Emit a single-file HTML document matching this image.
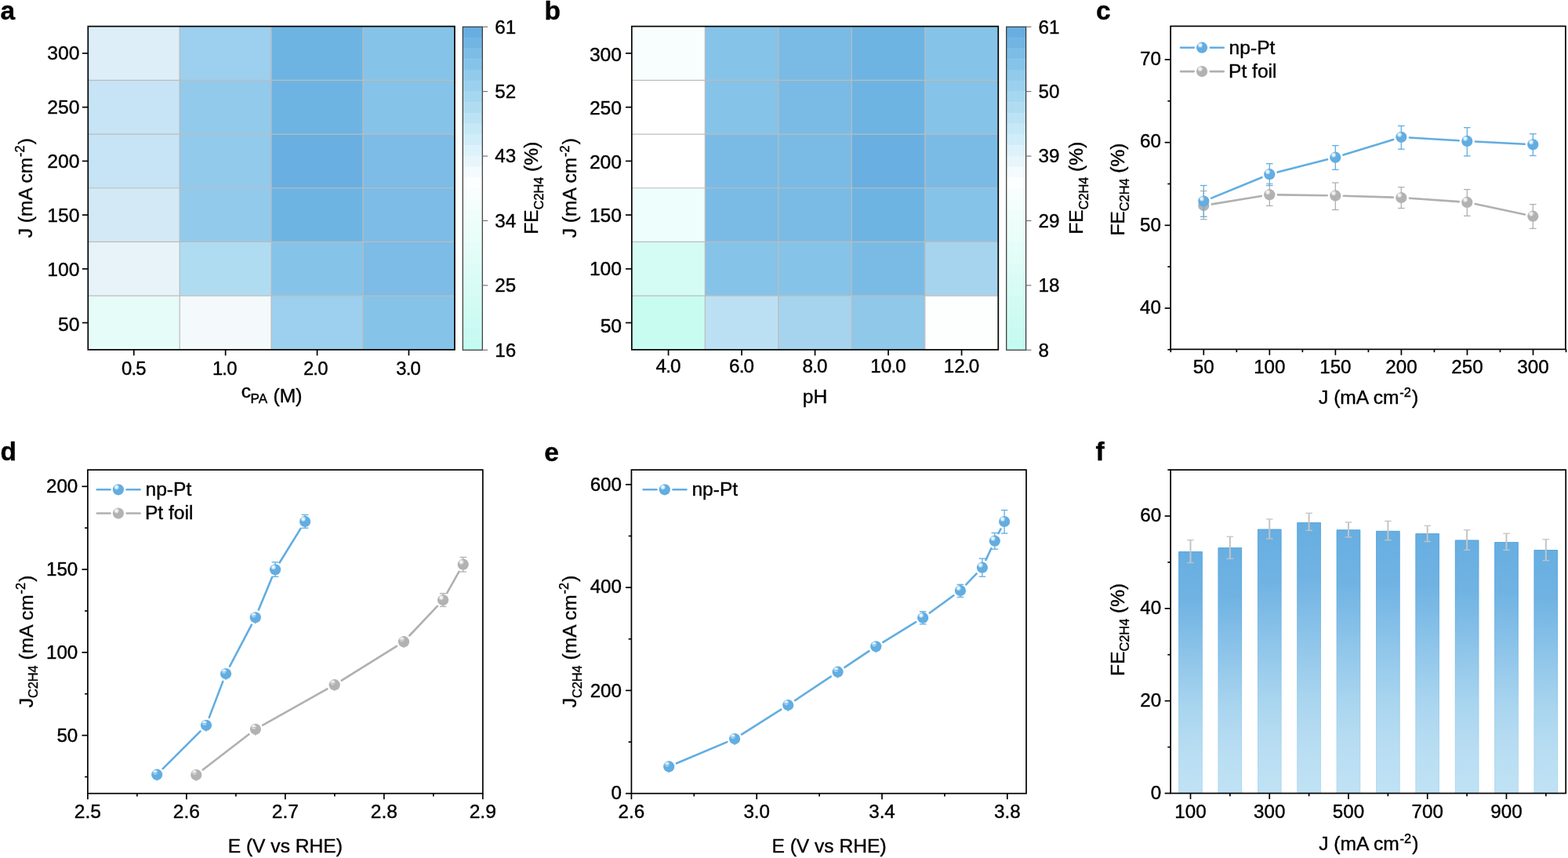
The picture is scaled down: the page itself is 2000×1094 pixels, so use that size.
<!DOCTYPE html>
<html lang="en"><head><meta charset="utf-8"><title>Figure</title>
<style>html,body{margin:0;padding:0;background:#fff}body{width:2000px;height:1094px;overflow:hidden}svg{display:block}text{font-family:"Liberation Sans",sans-serif;fill:#000;stroke:#000;stroke-width:0.4px;stroke-linejoin:round}</style></head><body>
<svg width="2000" height="1094" viewBox="0 0 2000 1094">
<defs>
<radialGradient id="sb" cx="0.36" cy="0.30" r="0.62" fx="0.33" fy="0.27"><stop offset="0" stop-color="#eaf5fc"/><stop offset="0.16" stop-color="#eaf5fc" stop-opacity="0.9"/><stop offset="0.42" stop-color="#62ade1"/><stop offset="1" stop-color="#62ade1"/></radialGradient>
<radialGradient id="sg" cx="0.36" cy="0.30" r="0.62" fx="0.33" fy="0.27"><stop offset="0" stop-color="#f2f2f2"/><stop offset="0.16" stop-color="#f2f2f2" stop-opacity="0.9"/><stop offset="0.42" stop-color="#b2b2b2"/><stop offset="1" stop-color="#b2b2b2"/></radialGradient>
<linearGradient id="bar" x1="0" y1="0" x2="0" y2="1"><stop offset="0" stop-color="#67aee1"/><stop offset="0.2" stop-color="#70b3e3"/><stop offset="0.45" stop-color="#90c6ea"/><stop offset="0.65" stop-color="#a9d5ef"/><stop offset="0.82" stop-color="#b8ddf2"/><stop offset="1" stop-color="#c0e2f4"/></linearGradient>
<linearGradient id="bare" x1="0" y1="0" x2="0" y2="1"><stop offset="0" stop-color="#5ba7de"/><stop offset="0.2" stop-color="#64ace0"/><stop offset="0.45" stop-color="#84bfe7"/><stop offset="0.65" stop-color="#9dceec"/><stop offset="0.82" stop-color="#acd6ef"/><stop offset="1" stop-color="#b4dbf1"/></linearGradient>
</defs>
<rect x="0" y="0" width="2000" height="1094" fill="#fff"/>
<text x="0.6" y="25" text-anchor="start" font-size="33.5" font-weight="bold" stroke="none">a</text>
<text x="694.6" y="25" text-anchor="start" font-size="33.5" font-weight="bold" stroke="none">b</text>
<text x="1398" y="25" text-anchor="start" font-size="33.5" font-weight="bold" stroke="none">c</text>
<text x="0.6" y="587" text-anchor="start" font-size="33.5" font-weight="bold" stroke="none">d</text>
<text x="694.3" y="587.7" text-anchor="start" font-size="33.5" font-weight="bold" stroke="none">e</text>
<text x="1397.6" y="587" text-anchor="start" font-size="33.5" font-weight="bold" stroke="none">f</text>
<rect x="112" y="33.3" width="117.5" height="69.32" fill="#ddeef8"/>
<rect x="228.9" y="33.3" width="117.5" height="69.32" fill="#9dcfee"/>
<rect x="345.8" y="33.3" width="117.5" height="69.32" fill="#6eb4e3"/>
<rect x="462.7" y="33.3" width="117.5" height="69.32" fill="#86c3e8"/>
<rect x="112" y="102.02" width="117.5" height="69.32" fill="#c6e4f5"/>
<rect x="228.9" y="102.02" width="117.5" height="69.32" fill="#92caec"/>
<rect x="345.8" y="102.02" width="117.5" height="69.32" fill="#6eb4e3"/>
<rect x="462.7" y="102.02" width="117.5" height="69.32" fill="#86c3e8"/>
<rect x="112" y="170.73" width="117.5" height="69.32" fill="#c6e4f5"/>
<rect x="228.9" y="170.73" width="117.5" height="69.32" fill="#92caec"/>
<rect x="345.8" y="170.73" width="117.5" height="69.32" fill="#6aafe1"/>
<rect x="462.7" y="170.73" width="117.5" height="69.32" fill="#7cbce6"/>
<rect x="112" y="239.45" width="117.5" height="69.32" fill="#d3eaf6"/>
<rect x="228.9" y="239.45" width="117.5" height="69.32" fill="#92caec"/>
<rect x="345.8" y="239.45" width="117.5" height="69.32" fill="#6eb4e3"/>
<rect x="462.7" y="239.45" width="117.5" height="69.32" fill="#7cbce6"/>
<rect x="112" y="308.17" width="117.5" height="69.32" fill="#e7f3f9"/>
<rect x="228.9" y="308.17" width="117.5" height="69.32" fill="#b0dcf2"/>
<rect x="345.8" y="308.17" width="117.5" height="69.32" fill="#86c3e8"/>
<rect x="462.7" y="308.17" width="117.5" height="69.32" fill="#7cbce6"/>
<rect x="112" y="376.88" width="117.5" height="69.32" fill="#e6fcf9"/>
<rect x="228.9" y="376.88" width="117.5" height="69.32" fill="#f4f9fc"/>
<rect x="345.8" y="376.88" width="117.5" height="69.32" fill="#9dcfee"/>
<rect x="462.7" y="376.88" width="117.5" height="69.32" fill="#86c3e8"/>
<line x1="229.2" y1="33.6" x2="229.2" y2="445.9" stroke="#bcbcbc" stroke-width="1.2" stroke-linecap="butt"/>
<line x1="346.1" y1="33.6" x2="346.1" y2="445.9" stroke="#bcbcbc" stroke-width="1.2" stroke-linecap="butt"/>
<line x1="463" y1="33.6" x2="463" y2="445.9" stroke="#bcbcbc" stroke-width="1.2" stroke-linecap="butt"/>
<line x1="112.3" y1="102.32" x2="579.9" y2="102.32" stroke="#bcbcbc" stroke-width="1.2" stroke-linecap="butt"/>
<line x1="112.3" y1="171.03" x2="579.9" y2="171.03" stroke="#bcbcbc" stroke-width="1.2" stroke-linecap="butt"/>
<line x1="112.3" y1="239.75" x2="579.9" y2="239.75" stroke="#bcbcbc" stroke-width="1.2" stroke-linecap="butt"/>
<line x1="112.3" y1="308.47" x2="579.9" y2="308.47" stroke="#bcbcbc" stroke-width="1.2" stroke-linecap="butt"/>
<line x1="112.3" y1="377.18" x2="579.9" y2="377.18" stroke="#bcbcbc" stroke-width="1.2" stroke-linecap="butt"/>
<rect x="112.3" y="33.6" width="467.6" height="412.3" fill="none" stroke="#000" stroke-width="1.7"/>
<line x1="104.85" y1="67.96" x2="112.3" y2="67.96" stroke="#000" stroke-width="1.7" stroke-linecap="butt"/>
<text x="101.5" y="76.16" text-anchor="end" font-size="24.7">300</text>
<line x1="104.85" y1="136.67" x2="112.3" y2="136.67" stroke="#000" stroke-width="1.7" stroke-linecap="butt"/>
<text x="101.5" y="145.17" text-anchor="end" font-size="24.7">250</text>
<line x1="104.85" y1="205.39" x2="112.3" y2="205.39" stroke="#000" stroke-width="1.7" stroke-linecap="butt"/>
<text x="101.5" y="213.89" text-anchor="end" font-size="24.7">200</text>
<line x1="104.85" y1="274.11" x2="112.3" y2="274.11" stroke="#000" stroke-width="1.7" stroke-linecap="butt"/>
<text x="101.5" y="282.71" text-anchor="end" font-size="24.7">150</text>
<line x1="104.85" y1="342.82" x2="112.3" y2="342.82" stroke="#000" stroke-width="1.7" stroke-linecap="butt"/>
<text x="101.5" y="351.62" text-anchor="end" font-size="24.7">100</text>
<line x1="104.85" y1="411.54" x2="112.3" y2="411.54" stroke="#000" stroke-width="1.7" stroke-linecap="butt"/>
<text x="101.5" y="422.24" text-anchor="end" font-size="24.7">50</text>
<line x1="170.75" y1="445.9" x2="170.75" y2="453.35" stroke="#000" stroke-width="1.7" stroke-linecap="butt"/>
<text x="170.75" y="478.2" text-anchor="middle" font-size="23.8">0<tspan dx="-0.80">.</tspan><tspan dx="-0.80">5</tspan></text>
<line x1="287.65" y1="445.9" x2="287.65" y2="453.35" stroke="#000" stroke-width="1.7" stroke-linecap="butt"/>
<text x="286.65" y="478.2" text-anchor="middle" font-size="23.8">1<tspan dx="-0.80">.</tspan><tspan dx="-0.80">0</tspan></text>
<line x1="404.55" y1="445.9" x2="404.55" y2="453.35" stroke="#000" stroke-width="1.7" stroke-linecap="butt"/>
<text x="402.65" y="478.2" text-anchor="middle" font-size="23.8">2<tspan dx="-0.80">.</tspan><tspan dx="-0.80">0</tspan></text>
<line x1="521.45" y1="445.9" x2="521.45" y2="453.35" stroke="#000" stroke-width="1.7" stroke-linecap="butt"/>
<text x="520.95" y="478.2" text-anchor="middle" font-size="23.8">3<tspan dx="-0.80">.</tspan><tspan dx="-0.80">0</tspan></text>
<text transform="translate(41,239.7) rotate(-90)" text-anchor="middle" font-size="24.6">J (mA cm<tspan font-size="16.3" dy="-9.6" dx="0.8">-2</tspan><tspan dy="9.6" dx="1.2">)</tspan></text>
<text x="307.7" y="507.2" text-anchor="start" font-size="24.6">c</text>
<text x="319.6" y="514" text-anchor="start" font-size="17.1">PA</text>
<text x="348.6" y="512.9" text-anchor="start" font-size="24.6">(M)</text>
<rect x="590.3" y="34" width="25" height="14.14" fill="#68aee0"/>
<rect x="590.3" y="47.74" width="25" height="14.14" fill="#72b5e3"/>
<rect x="590.3" y="61.47" width="25" height="14.14" fill="#7cbde6"/>
<rect x="590.3" y="75.21" width="25" height="14.14" fill="#86c3e9"/>
<rect x="590.3" y="88.95" width="25" height="14.14" fill="#91caeb"/>
<rect x="590.3" y="102.68" width="25" height="14.14" fill="#9bd0ee"/>
<rect x="590.3" y="116.42" width="25" height="14.14" fill="#a6d7f0"/>
<rect x="590.3" y="130.16" width="25" height="14.14" fill="#b0dcf2"/>
<rect x="590.3" y="143.89" width="25" height="14.14" fill="#bbe2f5"/>
<rect x="590.3" y="157.63" width="25" height="14.14" fill="#c6e8f7"/>
<rect x="590.3" y="171.37" width="25" height="14.14" fill="#d1edf9"/>
<rect x="590.3" y="185.1" width="25" height="14.14" fill="#ddf2fa"/>
<rect x="590.3" y="198.84" width="25" height="14.14" fill="#e8f6fc"/>
<rect x="590.3" y="212.58" width="25" height="14.14" fill="#f3fbfe"/>
<rect x="590.3" y="226.31" width="25" height="14.14" fill="#fbfffe"/>
<rect x="590.3" y="240.05" width="25" height="14.14" fill="#f8fefd"/>
<rect x="590.3" y="253.79" width="25" height="14.14" fill="#f4fefc"/>
<rect x="590.3" y="267.52" width="25" height="14.14" fill="#f0fefb"/>
<rect x="590.3" y="281.26" width="25" height="14.14" fill="#edfdfa"/>
<rect x="590.3" y="295" width="25" height="14.14" fill="#e9fdf9"/>
<rect x="590.3" y="308.73" width="25" height="14.14" fill="#e5fdf8"/>
<rect x="590.3" y="322.47" width="25" height="14.14" fill="#e2fcf8"/>
<rect x="590.3" y="336.21" width="25" height="14.14" fill="#defcf7"/>
<rect x="590.3" y="349.94" width="25" height="14.14" fill="#dafcf6"/>
<rect x="590.3" y="363.68" width="25" height="14.14" fill="#d6fcf5"/>
<rect x="590.3" y="377.42" width="25" height="14.14" fill="#d3fbf4"/>
<rect x="590.3" y="391.15" width="25" height="14.14" fill="#cffbf3"/>
<rect x="590.3" y="404.89" width="25" height="14.14" fill="#cbfbf2"/>
<rect x="590.3" y="418.63" width="25" height="14.14" fill="#c8faf1"/>
<rect x="590.3" y="432.36" width="25" height="14.14" fill="#c4faf0"/>
<rect x="590.3" y="34.2" width="25" height="412.1" fill="none" stroke="#333" stroke-width="1.2"/>
<line x1="615.3" y1="34.2" x2="622.1" y2="34.2" stroke="#6a6a6a" stroke-width="1.1" stroke-linecap="butt"/>
<text x="631.3" y="42.6" text-anchor="start" font-size="24.2">61</text>
<line x1="615.3" y1="116.62" x2="622.1" y2="116.62" stroke="#6a6a6a" stroke-width="1.1" stroke-linecap="butt"/>
<text x="631.3" y="125.02" text-anchor="start" font-size="24.2">52</text>
<line x1="615.3" y1="199.04" x2="622.1" y2="199.04" stroke="#6a6a6a" stroke-width="1.1" stroke-linecap="butt"/>
<text x="631.3" y="207.44" text-anchor="start" font-size="24.2">43</text>
<line x1="615.3" y1="281.46" x2="622.1" y2="281.46" stroke="#6a6a6a" stroke-width="1.1" stroke-linecap="butt"/>
<text x="631.3" y="289.86" text-anchor="start" font-size="24.2">34</text>
<line x1="615.3" y1="363.88" x2="622.1" y2="363.88" stroke="#6a6a6a" stroke-width="1.1" stroke-linecap="butt"/>
<text x="631.3" y="372.28" text-anchor="start" font-size="24.2">25</text>
<line x1="615.3" y1="446.3" x2="622.1" y2="446.3" stroke="#6a6a6a" stroke-width="1.1" stroke-linecap="butt"/>
<text x="631.3" y="454.7" text-anchor="start" font-size="24.2">16</text>
<text transform="translate(686.4,239.7) rotate(-90)" text-anchor="middle" font-size="24.6">FE<tspan font-size="16.3" dy="6.2">C2H4</tspan><tspan dy="-6.2"> (%)</tspan></text>
<rect x="805.5" y="33.3" width="94.1" height="69.32" fill="#f8fefd"/>
<rect x="899" y="33.3" width="94.1" height="69.32" fill="#86c3e8"/>
<rect x="992.5" y="33.3" width="94.1" height="69.32" fill="#7abbe5"/>
<rect x="1086" y="33.3" width="94.1" height="69.32" fill="#6eb4e3"/>
<rect x="1179.5" y="33.3" width="94.1" height="69.32" fill="#86c3e8"/>
<rect x="805.5" y="102.02" width="94.1" height="69.32" fill="#ffffff"/>
<rect x="899" y="102.02" width="94.1" height="69.32" fill="#86c3e8"/>
<rect x="992.5" y="102.02" width="94.1" height="69.32" fill="#7abbe5"/>
<rect x="1086" y="102.02" width="94.1" height="69.32" fill="#6eb4e3"/>
<rect x="1179.5" y="102.02" width="94.1" height="69.32" fill="#86c3e8"/>
<rect x="805.5" y="170.73" width="94.1" height="69.32" fill="#ffffff"/>
<rect x="899" y="170.73" width="94.1" height="69.32" fill="#7abbe5"/>
<rect x="992.5" y="170.73" width="94.1" height="69.32" fill="#7abbe5"/>
<rect x="1086" y="170.73" width="94.1" height="69.32" fill="#6aafe1"/>
<rect x="1179.5" y="170.73" width="94.1" height="69.32" fill="#7abbe5"/>
<rect x="805.5" y="239.45" width="94.1" height="69.32" fill="#edfefc"/>
<rect x="899" y="239.45" width="94.1" height="69.32" fill="#7abbe5"/>
<rect x="992.5" y="239.45" width="94.1" height="69.32" fill="#7abbe5"/>
<rect x="1086" y="239.45" width="94.1" height="69.32" fill="#6eb4e3"/>
<rect x="1179.5" y="239.45" width="94.1" height="69.32" fill="#86c3e8"/>
<rect x="805.5" y="308.17" width="94.1" height="69.32" fill="#d4fcf4"/>
<rect x="899" y="308.17" width="94.1" height="69.32" fill="#86c3e8"/>
<rect x="992.5" y="308.17" width="94.1" height="69.32" fill="#86c3e8"/>
<rect x="1086" y="308.17" width="94.1" height="69.32" fill="#7abbe5"/>
<rect x="1179.5" y="308.17" width="94.1" height="69.32" fill="#a6d4ee"/>
<rect x="805.5" y="376.88" width="94.1" height="69.32" fill="#c9fcf1"/>
<rect x="899" y="376.88" width="94.1" height="69.32" fill="#bce0f3"/>
<rect x="992.5" y="376.88" width="94.1" height="69.32" fill="#a6d4ee"/>
<rect x="1086" y="376.88" width="94.1" height="69.32" fill="#90c8ea"/>
<rect x="1179.5" y="376.88" width="94.1" height="69.32" fill="#fdfefe"/>
<line x1="899.3" y1="33.6" x2="899.3" y2="445.9" stroke="#bcbcbc" stroke-width="1.2" stroke-linecap="butt"/>
<line x1="992.8" y1="33.6" x2="992.8" y2="445.9" stroke="#bcbcbc" stroke-width="1.2" stroke-linecap="butt"/>
<line x1="1086.3" y1="33.6" x2="1086.3" y2="445.9" stroke="#bcbcbc" stroke-width="1.2" stroke-linecap="butt"/>
<line x1="1179.8" y1="33.6" x2="1179.8" y2="445.9" stroke="#bcbcbc" stroke-width="1.2" stroke-linecap="butt"/>
<line x1="805.8" y1="102.32" x2="1273.3" y2="102.32" stroke="#bcbcbc" stroke-width="1.2" stroke-linecap="butt"/>
<line x1="805.8" y1="171.03" x2="1273.3" y2="171.03" stroke="#bcbcbc" stroke-width="1.2" stroke-linecap="butt"/>
<line x1="805.8" y1="239.75" x2="1273.3" y2="239.75" stroke="#bcbcbc" stroke-width="1.2" stroke-linecap="butt"/>
<line x1="805.8" y1="308.47" x2="1273.3" y2="308.47" stroke="#bcbcbc" stroke-width="1.2" stroke-linecap="butt"/>
<line x1="805.8" y1="377.18" x2="1273.3" y2="377.18" stroke="#bcbcbc" stroke-width="1.2" stroke-linecap="butt"/>
<rect x="805.8" y="33.6" width="467.5" height="412.3" fill="none" stroke="#000" stroke-width="1.7"/>
<line x1="797.95" y1="67.96" x2="805.8" y2="67.96" stroke="#000" stroke-width="1.7" stroke-linecap="butt"/>
<text x="793.1" y="77.56" text-anchor="end" font-size="24.7">300</text>
<line x1="797.95" y1="136.67" x2="805.8" y2="136.67" stroke="#000" stroke-width="1.7" stroke-linecap="butt"/>
<text x="793.1" y="145.77" text-anchor="end" font-size="24.7">250</text>
<line x1="797.95" y1="205.39" x2="805.8" y2="205.39" stroke="#000" stroke-width="1.7" stroke-linecap="butt"/>
<text x="793.1" y="215.29" text-anchor="end" font-size="24.7">200</text>
<line x1="797.95" y1="274.11" x2="805.8" y2="274.11" stroke="#000" stroke-width="1.7" stroke-linecap="butt"/>
<text x="793.1" y="283.21" text-anchor="end" font-size="24.7">150</text>
<line x1="797.95" y1="342.82" x2="805.8" y2="342.82" stroke="#000" stroke-width="1.7" stroke-linecap="butt"/>
<text x="793.1" y="350.93" text-anchor="end" font-size="24.7">100</text>
<line x1="797.95" y1="411.54" x2="805.8" y2="411.54" stroke="#000" stroke-width="1.7" stroke-linecap="butt"/>
<text x="793.1" y="424.04" text-anchor="end" font-size="24.7">50</text>
<line x1="852.55" y1="445.9" x2="852.55" y2="453.35" stroke="#000" stroke-width="1.7" stroke-linecap="butt"/>
<text x="852.55" y="475" text-anchor="middle" font-size="24.2">4<tspan dx="-0.80">.</tspan><tspan dx="-0.80">0</tspan></text>
<line x1="946.05" y1="445.9" x2="946.05" y2="453.35" stroke="#000" stroke-width="1.7" stroke-linecap="butt"/>
<text x="946.05" y="475" text-anchor="middle" font-size="24.2">6<tspan dx="-0.80">.</tspan><tspan dx="-0.80">0</tspan></text>
<line x1="1039.55" y1="445.9" x2="1039.55" y2="453.35" stroke="#000" stroke-width="1.7" stroke-linecap="butt"/>
<text x="1039.55" y="475" text-anchor="middle" font-size="24.2">8<tspan dx="-0.80">.</tspan><tspan dx="-0.80">0</tspan></text>
<line x1="1133.05" y1="445.9" x2="1133.05" y2="453.35" stroke="#000" stroke-width="1.7" stroke-linecap="butt"/>
<text x="1133.05" y="475" text-anchor="middle" font-size="24.2">10<tspan dx="-0.80">.</tspan><tspan dx="-0.80">0</tspan></text>
<line x1="1226.55" y1="445.9" x2="1226.55" y2="453.35" stroke="#000" stroke-width="1.7" stroke-linecap="butt"/>
<text x="1226.55" y="475" text-anchor="middle" font-size="24.2">12<tspan dx="-0.80">.</tspan><tspan dx="-0.80">0</tspan></text>
<text transform="translate(735.4,239.7) rotate(-90)" text-anchor="middle" font-size="24.6">J (mA cm<tspan font-size="16.3" dy="-9.6" dx="0.8">-2</tspan><tspan dy="9.6" dx="1.2">)</tspan></text>
<text x="1039.5" y="513.5" text-anchor="middle" font-size="24.6">pH</text>
<rect x="1283.7" y="34" width="24.9" height="14.14" fill="#68aee0"/>
<rect x="1283.7" y="47.74" width="24.9" height="14.14" fill="#72b5e3"/>
<rect x="1283.7" y="61.47" width="24.9" height="14.14" fill="#7cbde6"/>
<rect x="1283.7" y="75.21" width="24.9" height="14.14" fill="#86c3e9"/>
<rect x="1283.7" y="88.95" width="24.9" height="14.14" fill="#91caeb"/>
<rect x="1283.7" y="102.68" width="24.9" height="14.14" fill="#9bd0ee"/>
<rect x="1283.7" y="116.42" width="24.9" height="14.14" fill="#a6d7f0"/>
<rect x="1283.7" y="130.16" width="24.9" height="14.14" fill="#b0dcf2"/>
<rect x="1283.7" y="143.89" width="24.9" height="14.14" fill="#bbe2f5"/>
<rect x="1283.7" y="157.63" width="24.9" height="14.14" fill="#c6e8f7"/>
<rect x="1283.7" y="171.37" width="24.9" height="14.14" fill="#d1edf9"/>
<rect x="1283.7" y="185.1" width="24.9" height="14.14" fill="#ddf2fa"/>
<rect x="1283.7" y="198.84" width="24.9" height="14.14" fill="#e8f6fc"/>
<rect x="1283.7" y="212.58" width="24.9" height="14.14" fill="#f3fbfe"/>
<rect x="1283.7" y="226.31" width="24.9" height="14.14" fill="#fbfffe"/>
<rect x="1283.7" y="240.05" width="24.9" height="14.14" fill="#f8fefd"/>
<rect x="1283.7" y="253.79" width="24.9" height="14.14" fill="#f4fefc"/>
<rect x="1283.7" y="267.52" width="24.9" height="14.14" fill="#f0fefb"/>
<rect x="1283.7" y="281.26" width="24.9" height="14.14" fill="#edfdfa"/>
<rect x="1283.7" y="295" width="24.9" height="14.14" fill="#e9fdf9"/>
<rect x="1283.7" y="308.73" width="24.9" height="14.14" fill="#e5fdf8"/>
<rect x="1283.7" y="322.47" width="24.9" height="14.14" fill="#e2fcf8"/>
<rect x="1283.7" y="336.21" width="24.9" height="14.14" fill="#defcf7"/>
<rect x="1283.7" y="349.94" width="24.9" height="14.14" fill="#dafcf6"/>
<rect x="1283.7" y="363.68" width="24.9" height="14.14" fill="#d6fcf5"/>
<rect x="1283.7" y="377.42" width="24.9" height="14.14" fill="#d3fbf4"/>
<rect x="1283.7" y="391.15" width="24.9" height="14.14" fill="#cffbf3"/>
<rect x="1283.7" y="404.89" width="24.9" height="14.14" fill="#cbfbf2"/>
<rect x="1283.7" y="418.63" width="24.9" height="14.14" fill="#c8faf1"/>
<rect x="1283.7" y="432.36" width="24.9" height="14.14" fill="#c4faf0"/>
<rect x="1283.7" y="34.2" width="24.9" height="412.1" fill="none" stroke="#333" stroke-width="1.2"/>
<line x1="1308.6" y1="34.2" x2="1315.4" y2="34.2" stroke="#6a6a6a" stroke-width="1.1" stroke-linecap="butt"/>
<text x="1324.6" y="42.6" text-anchor="start" font-size="24.2">61</text>
<line x1="1308.6" y1="116.62" x2="1315.4" y2="116.62" stroke="#6a6a6a" stroke-width="1.1" stroke-linecap="butt"/>
<text x="1324.6" y="125.02" text-anchor="start" font-size="24.2">50</text>
<line x1="1308.6" y1="199.04" x2="1315.4" y2="199.04" stroke="#6a6a6a" stroke-width="1.1" stroke-linecap="butt"/>
<text x="1324.6" y="207.44" text-anchor="start" font-size="24.2">39</text>
<line x1="1308.6" y1="281.46" x2="1315.4" y2="281.46" stroke="#6a6a6a" stroke-width="1.1" stroke-linecap="butt"/>
<text x="1324.6" y="289.86" text-anchor="start" font-size="24.2">29</text>
<line x1="1308.6" y1="363.88" x2="1315.4" y2="363.88" stroke="#6a6a6a" stroke-width="1.1" stroke-linecap="butt"/>
<text x="1324.6" y="372.28" text-anchor="start" font-size="24.2">18</text>
<line x1="1308.6" y1="446.3" x2="1315.4" y2="446.3" stroke="#6a6a6a" stroke-width="1.1" stroke-linecap="butt"/>
<text x="1324.6" y="454.7" text-anchor="start" font-size="24.2">8</text>
<text transform="translate(1381.3,239.7) rotate(-90)" text-anchor="middle" font-size="24.6">FE<tspan font-size="16.3" dy="6.2">C2H4</tspan><tspan dy="-6.2"> (%)</tspan></text>
<rect x="1493.1" y="33.4" width="503.8" height="412" fill="none" stroke="#000" stroke-width="1.7"/>
<line x1="1485.65" y1="76" x2="1493.1" y2="76" stroke="#000" stroke-width="1.7" stroke-linecap="butt"/>
<text x="1480.9" y="83.1" text-anchor="end" font-size="24.2">70</text>
<line x1="1485.65" y1="181.65" x2="1493.1" y2="181.65" stroke="#000" stroke-width="1.7" stroke-linecap="butt"/>
<text x="1480.9" y="188.35" text-anchor="end" font-size="24.2">60</text>
<line x1="1485.65" y1="287.3" x2="1493.1" y2="287.3" stroke="#000" stroke-width="1.7" stroke-linecap="butt"/>
<text x="1480.9" y="295.2" text-anchor="end" font-size="24.2">50</text>
<line x1="1485.65" y1="392.95" x2="1493.1" y2="392.95" stroke="#000" stroke-width="1.7" stroke-linecap="butt"/>
<text x="1480.9" y="400.25" text-anchor="end" font-size="24.2">40</text>
<line x1="1489.35" y1="128.82" x2="1493.1" y2="128.82" stroke="#000" stroke-width="1.7" stroke-linecap="butt"/>
<line x1="1489.35" y1="234.47" x2="1493.1" y2="234.47" stroke="#000" stroke-width="1.7" stroke-linecap="butt"/>
<line x1="1489.35" y1="340.12" x2="1493.1" y2="340.12" stroke="#000" stroke-width="1.7" stroke-linecap="butt"/>
<line x1="1489.35" y1="445.77" x2="1493.1" y2="445.77" stroke="#000" stroke-width="1.7" stroke-linecap="butt"/>
<line x1="1535.3" y1="445.4" x2="1535.3" y2="452.85" stroke="#000" stroke-width="1.7" stroke-linecap="butt"/>
<text x="1535.3" y="476" text-anchor="middle" font-size="24.2">50</text>
<line x1="1619.34" y1="445.4" x2="1619.34" y2="452.85" stroke="#000" stroke-width="1.7" stroke-linecap="butt"/>
<text x="1619.34" y="476" text-anchor="middle" font-size="24.2">100</text>
<line x1="1703.38" y1="445.4" x2="1703.38" y2="452.85" stroke="#000" stroke-width="1.7" stroke-linecap="butt"/>
<text x="1703.38" y="476" text-anchor="middle" font-size="24.2">150</text>
<line x1="1787.42" y1="445.4" x2="1787.42" y2="452.85" stroke="#000" stroke-width="1.7" stroke-linecap="butt"/>
<text x="1787.42" y="476" text-anchor="middle" font-size="24.2">200</text>
<line x1="1871.46" y1="445.4" x2="1871.46" y2="452.85" stroke="#000" stroke-width="1.7" stroke-linecap="butt"/>
<text x="1871.46" y="476" text-anchor="middle" font-size="24.2">250</text>
<line x1="1955.5" y1="445.4" x2="1955.5" y2="452.85" stroke="#000" stroke-width="1.7" stroke-linecap="butt"/>
<text x="1955.5" y="476" text-anchor="middle" font-size="24.2">300</text>
<line x1="1493.28" y1="445.4" x2="1493.28" y2="449.15" stroke="#000" stroke-width="1.7" stroke-linecap="butt"/>
<line x1="1577.32" y1="445.4" x2="1577.32" y2="449.15" stroke="#000" stroke-width="1.7" stroke-linecap="butt"/>
<line x1="1661.36" y1="445.4" x2="1661.36" y2="449.15" stroke="#000" stroke-width="1.7" stroke-linecap="butt"/>
<line x1="1745.4" y1="445.4" x2="1745.4" y2="449.15" stroke="#000" stroke-width="1.7" stroke-linecap="butt"/>
<line x1="1829.44" y1="445.4" x2="1829.44" y2="449.15" stroke="#000" stroke-width="1.7" stroke-linecap="butt"/>
<line x1="1913.48" y1="445.4" x2="1913.48" y2="449.15" stroke="#000" stroke-width="1.7" stroke-linecap="butt"/>
<line x1="1997.52" y1="445.4" x2="1997.52" y2="449.15" stroke="#000" stroke-width="1.7" stroke-linecap="butt"/>
<text transform="translate(1434,241.5) rotate(-90)" text-anchor="middle" font-size="24.6">FE<tspan font-size="16.3" dy="6.2">C2H4</tspan><tspan dy="-6.2"> (%)</tspan></text>
<text x="1745.6" y="515.2" text-anchor="middle" font-size="24.6">J (mA cm<tspan font-size="16.3" dy="-9.6" dx="0.8">-2</tspan><tspan dy="9.6" dx="1.2">)</tspan></text>
<line x1="1545.76" y1="260.37" x2="1608.84" y2="249.93" stroke="#b0b0b0" stroke-width="2.6" stroke-linecap="round"/>
<line x1="1629.9" y1="248.35" x2="1692.7" y2="249.25" stroke="#b0b0b0" stroke-width="2.6" stroke-linecap="round"/>
<line x1="1713.89" y1="249.73" x2="1776.71" y2="251.67" stroke="#b0b0b0" stroke-width="2.6" stroke-linecap="round"/>
<line x1="1797.87" y1="252.74" x2="1860.73" y2="257.16" stroke="#b0b0b0" stroke-width="2.6" stroke-linecap="round"/>
<line x1="1881.67" y1="260.1" x2="1944.93" y2="273.5" stroke="#b0b0b0" stroke-width="2.6" stroke-linecap="round"/>
<line x1="1535.3" y1="243.5" x2="1535.3" y2="279.7" stroke="#b0b0b0" stroke-width="1.3" stroke-linecap="butt"/>
<line x1="1531" y1="243.5" x2="1539.6" y2="243.5" stroke="#b0b0b0" stroke-width="1.3" stroke-linecap="butt"/>
<line x1="1531" y1="279.7" x2="1539.6" y2="279.7" stroke="#b0b0b0" stroke-width="1.3" stroke-linecap="butt"/>
<line x1="1619.3" y1="234.3" x2="1619.3" y2="262.4" stroke="#b0b0b0" stroke-width="1.3" stroke-linecap="butt"/>
<line x1="1615" y1="234.3" x2="1623.6" y2="234.3" stroke="#b0b0b0" stroke-width="1.3" stroke-linecap="butt"/>
<line x1="1615" y1="262.4" x2="1623.6" y2="262.4" stroke="#b0b0b0" stroke-width="1.3" stroke-linecap="butt"/>
<line x1="1703.3" y1="233" x2="1703.3" y2="267.5" stroke="#b0b0b0" stroke-width="1.3" stroke-linecap="butt"/>
<line x1="1699" y1="233" x2="1707.6" y2="233" stroke="#b0b0b0" stroke-width="1.3" stroke-linecap="butt"/>
<line x1="1699" y1="267.5" x2="1707.6" y2="267.5" stroke="#b0b0b0" stroke-width="1.3" stroke-linecap="butt"/>
<line x1="1787.3" y1="238.7" x2="1787.3" y2="265.5" stroke="#b0b0b0" stroke-width="1.3" stroke-linecap="butt"/>
<line x1="1783" y1="238.7" x2="1791.6" y2="238.7" stroke="#b0b0b0" stroke-width="1.3" stroke-linecap="butt"/>
<line x1="1783" y1="265.5" x2="1791.6" y2="265.5" stroke="#b0b0b0" stroke-width="1.3" stroke-linecap="butt"/>
<line x1="1871.3" y1="241.6" x2="1871.3" y2="275.3" stroke="#b0b0b0" stroke-width="1.3" stroke-linecap="butt"/>
<line x1="1867" y1="241.6" x2="1875.6" y2="241.6" stroke="#b0b0b0" stroke-width="1.3" stroke-linecap="butt"/>
<line x1="1867" y1="275.3" x2="1875.6" y2="275.3" stroke="#b0b0b0" stroke-width="1.3" stroke-linecap="butt"/>
<line x1="1955.3" y1="260.6" x2="1955.3" y2="291.4" stroke="#b0b0b0" stroke-width="1.3" stroke-linecap="butt"/>
<line x1="1951" y1="260.6" x2="1959.6" y2="260.6" stroke="#b0b0b0" stroke-width="1.3" stroke-linecap="butt"/>
<line x1="1951" y1="291.4" x2="1959.6" y2="291.4" stroke="#b0b0b0" stroke-width="1.3" stroke-linecap="butt"/>
<circle cx="1535.3" cy="262.1" r="7.1" fill="url(#sg)"/>
<circle cx="1619.3" cy="248.2" r="7.1" fill="url(#sg)"/>
<circle cx="1703.3" cy="249.4" r="7.1" fill="url(#sg)"/>
<circle cx="1787.3" cy="252" r="7.1" fill="url(#sg)"/>
<circle cx="1871.3" cy="257.9" r="7.1" fill="url(#sg)"/>
<circle cx="1955.3" cy="275.7" r="7.1" fill="url(#sg)"/>
<line x1="1545.11" y1="252.58" x2="1609.49" y2="226.22" stroke="#62ade1" stroke-width="2.6" stroke-linecap="round"/>
<line x1="1629.57" y1="219.57" x2="1693.03" y2="203.33" stroke="#62ade1" stroke-width="2.6" stroke-linecap="round"/>
<line x1="1713.43" y1="197.58" x2="1777.17" y2="177.92" stroke="#62ade1" stroke-width="2.6" stroke-linecap="round"/>
<line x1="1797.88" y1="175.44" x2="1860.72" y2="179.26" stroke="#62ade1" stroke-width="2.6" stroke-linecap="round"/>
<line x1="1881.89" y1="180.45" x2="1944.71" y2="183.75" stroke="#62ade1" stroke-width="2.6" stroke-linecap="round"/>
<line x1="1535.3" y1="236.5" x2="1535.3" y2="276.3" stroke="#62ade1" stroke-width="1.3" stroke-linecap="butt"/>
<line x1="1531" y1="236.5" x2="1539.6" y2="236.5" stroke="#62ade1" stroke-width="1.3" stroke-linecap="butt"/>
<line x1="1531" y1="276.3" x2="1539.6" y2="276.3" stroke="#62ade1" stroke-width="1.3" stroke-linecap="butt"/>
<line x1="1619.3" y1="208.7" x2="1619.3" y2="236.5" stroke="#62ade1" stroke-width="1.3" stroke-linecap="butt"/>
<line x1="1615" y1="208.7" x2="1623.6" y2="208.7" stroke="#62ade1" stroke-width="1.3" stroke-linecap="butt"/>
<line x1="1615" y1="236.5" x2="1623.6" y2="236.5" stroke="#62ade1" stroke-width="1.3" stroke-linecap="butt"/>
<line x1="1703.3" y1="185.6" x2="1703.3" y2="216.3" stroke="#62ade1" stroke-width="1.3" stroke-linecap="butt"/>
<line x1="1699" y1="185.6" x2="1707.6" y2="185.6" stroke="#62ade1" stroke-width="1.3" stroke-linecap="butt"/>
<line x1="1699" y1="216.3" x2="1707.6" y2="216.3" stroke="#62ade1" stroke-width="1.3" stroke-linecap="butt"/>
<line x1="1787.3" y1="160.5" x2="1787.3" y2="190.2" stroke="#62ade1" stroke-width="1.3" stroke-linecap="butt"/>
<line x1="1783" y1="160.5" x2="1791.6" y2="160.5" stroke="#62ade1" stroke-width="1.3" stroke-linecap="butt"/>
<line x1="1783" y1="190.2" x2="1791.6" y2="190.2" stroke="#62ade1" stroke-width="1.3" stroke-linecap="butt"/>
<line x1="1871.3" y1="162.7" x2="1871.3" y2="198.9" stroke="#62ade1" stroke-width="1.3" stroke-linecap="butt"/>
<line x1="1867" y1="162.7" x2="1875.6" y2="162.7" stroke="#62ade1" stroke-width="1.3" stroke-linecap="butt"/>
<line x1="1867" y1="198.9" x2="1875.6" y2="198.9" stroke="#62ade1" stroke-width="1.3" stroke-linecap="butt"/>
<line x1="1955.3" y1="170.7" x2="1955.3" y2="198.5" stroke="#62ade1" stroke-width="1.3" stroke-linecap="butt"/>
<line x1="1951" y1="170.7" x2="1959.6" y2="170.7" stroke="#62ade1" stroke-width="1.3" stroke-linecap="butt"/>
<line x1="1951" y1="198.5" x2="1959.6" y2="198.5" stroke="#62ade1" stroke-width="1.3" stroke-linecap="butt"/>
<circle cx="1535.3" cy="256.6" r="7.1" fill="url(#sb)"/>
<circle cx="1619.3" cy="222.2" r="7.1" fill="url(#sb)"/>
<circle cx="1703.3" cy="200.7" r="7.1" fill="url(#sb)"/>
<circle cx="1787.3" cy="174.8" r="7.1" fill="url(#sb)"/>
<circle cx="1871.3" cy="179.9" r="7.1" fill="url(#sb)"/>
<circle cx="1955.3" cy="184.3" r="7.1" fill="url(#sb)"/>
<line x1="1535.3" y1="250.2" x2="1535.3" y2="254.8" stroke="#b4b4b4" stroke-width="1.2" stroke-linecap="butt"/>
<line x1="1506" y1="60.7" x2="1522.7" y2="60.7" stroke="#62ade1" stroke-width="2.6" stroke-linecap="round"/>
<line x1="1543.8" y1="60.7" x2="1560.7" y2="60.7" stroke="#62ade1" stroke-width="2.6" stroke-linecap="round"/>
<circle cx="1533.1" cy="60.7" r="7.1" fill="url(#sb)"/>
<text x="1567.6" y="68.6" text-anchor="start" font-size="24.6">np-Pt</text>
<line x1="1506" y1="91.1" x2="1522.7" y2="91.1" stroke="#b0b0b0" stroke-width="2.6" stroke-linecap="round"/>
<line x1="1543.8" y1="91.1" x2="1560.7" y2="91.1" stroke="#b0b0b0" stroke-width="2.6" stroke-linecap="round"/>
<circle cx="1533.1" cy="91.1" r="7.1" fill="url(#sg)"/>
<text x="1567" y="99" text-anchor="start" font-size="24.6">Pt foil</text>
<rect x="111.9" y="599.1" width="503.9" height="412.6" fill="none" stroke="#000" stroke-width="1.7"/>
<line x1="104.45" y1="620.26" x2="111.9" y2="620.26" stroke="#000" stroke-width="1.7" stroke-linecap="butt"/>
<text x="99.3" y="627.56" text-anchor="end" font-size="24.2">200</text>
<line x1="104.45" y1="726.05" x2="111.9" y2="726.05" stroke="#000" stroke-width="1.7" stroke-linecap="butt"/>
<text x="99.3" y="733.55" text-anchor="end" font-size="24.2">150</text>
<line x1="104.45" y1="831.85" x2="111.9" y2="831.85" stroke="#000" stroke-width="1.7" stroke-linecap="butt"/>
<text x="99.3" y="839.55" text-anchor="end" font-size="24.2">100</text>
<line x1="104.45" y1="937.64" x2="111.9" y2="937.64" stroke="#000" stroke-width="1.7" stroke-linecap="butt"/>
<text x="99.3" y="945.54" text-anchor="end" font-size="24.2">50</text>
<line x1="108.15" y1="673.16" x2="111.9" y2="673.16" stroke="#000" stroke-width="1.7" stroke-linecap="butt"/>
<line x1="108.15" y1="778.95" x2="111.9" y2="778.95" stroke="#000" stroke-width="1.7" stroke-linecap="butt"/>
<line x1="108.15" y1="884.75" x2="111.9" y2="884.75" stroke="#000" stroke-width="1.7" stroke-linecap="butt"/>
<line x1="108.15" y1="990.54" x2="111.9" y2="990.54" stroke="#000" stroke-width="1.7" stroke-linecap="butt"/>
<line x1="111.9" y1="1011.7" x2="111.9" y2="1019.15" stroke="#000" stroke-width="1.7" stroke-linecap="butt"/>
<text x="111.9" y="1043" text-anchor="middle" font-size="24.6">2.5</text>
<line x1="237.88" y1="1011.7" x2="237.88" y2="1019.15" stroke="#000" stroke-width="1.7" stroke-linecap="butt"/>
<text x="237.88" y="1043" text-anchor="middle" font-size="24.6">2.6</text>
<line x1="363.85" y1="1011.7" x2="363.85" y2="1019.15" stroke="#000" stroke-width="1.7" stroke-linecap="butt"/>
<text x="363.85" y="1043" text-anchor="middle" font-size="24.6">2.7</text>
<line x1="489.82" y1="1011.7" x2="489.82" y2="1019.15" stroke="#000" stroke-width="1.7" stroke-linecap="butt"/>
<text x="489.82" y="1043" text-anchor="middle" font-size="24.6">2.8</text>
<line x1="615.8" y1="1011.7" x2="615.8" y2="1019.15" stroke="#000" stroke-width="1.7" stroke-linecap="butt"/>
<text x="615.8" y="1043" text-anchor="middle" font-size="24.6">2.9</text>
<line x1="174.89" y1="1011.7" x2="174.89" y2="1015.45" stroke="#000" stroke-width="1.7" stroke-linecap="butt"/>
<line x1="300.86" y1="1011.7" x2="300.86" y2="1015.45" stroke="#000" stroke-width="1.7" stroke-linecap="butt"/>
<line x1="426.84" y1="1011.7" x2="426.84" y2="1015.45" stroke="#000" stroke-width="1.7" stroke-linecap="butt"/>
<line x1="552.81" y1="1011.7" x2="552.81" y2="1015.45" stroke="#000" stroke-width="1.7" stroke-linecap="butt"/>
<text transform="translate(41.6,817.9) rotate(-90)" text-anchor="middle" font-size="24.6">J<tspan font-size="16.3" dy="6.8">C2H4</tspan><tspan dy="-6.8"> (mA cm</tspan><tspan font-size="16.3" dy="-9.6" dx="0.8">-2</tspan><tspan dy="9.6" dx="1.2">)</tspan></text>
<text x="363.8" y="1087" text-anchor="middle" font-size="24.6">E (V vs RHE)</text>
<line x1="258.7" y1="981.53" x2="317.5" y2="936.27" stroke="#b0b0b0" stroke-width="2.6" stroke-linecap="round"/>
<line x1="335.14" y1="924.61" x2="417.46" y2="878.39" stroke="#b0b0b0" stroke-width="2.6" stroke-linecap="round"/>
<line x1="435.7" y1="867.6" x2="506" y2="823.8" stroke="#b0b0b0" stroke-width="2.6" stroke-linecap="round"/>
<line x1="522.27" y1="810.49" x2="557.83" y2="772.81" stroke="#b0b0b0" stroke-width="2.6" stroke-linecap="round"/>
<line x1="570.31" y1="755.87" x2="585.49" y2="728.93" stroke="#b0b0b0" stroke-width="2.6" stroke-linecap="round"/>
<line x1="565.1" y1="756.6" x2="565.1" y2="773.4" stroke="#b0b0b0" stroke-width="1.3" stroke-linecap="butt"/>
<line x1="560.8" y1="756.6" x2="569.4" y2="756.6" stroke="#b0b0b0" stroke-width="1.3" stroke-linecap="butt"/>
<line x1="560.8" y1="773.4" x2="569.4" y2="773.4" stroke="#b0b0b0" stroke-width="1.3" stroke-linecap="butt"/>
<line x1="590.7" y1="710.5" x2="590.7" y2="729" stroke="#b0b0b0" stroke-width="1.3" stroke-linecap="butt"/>
<line x1="586.4" y1="710.5" x2="595" y2="710.5" stroke="#b0b0b0" stroke-width="1.3" stroke-linecap="butt"/>
<line x1="586.4" y1="729" x2="595" y2="729" stroke="#b0b0b0" stroke-width="1.3" stroke-linecap="butt"/>
<line x1="250.3" y1="988" x2="250.3" y2="995.9" stroke="#b0b0b0" stroke-width="1.3" stroke-linecap="butt"/>
<circle cx="250.3" cy="988" r="7.1" fill="url(#sg)"/>
<line x1="246" y1="985.9" x2="250.9" y2="985.9" stroke="#b0b0b0" stroke-width="1" stroke-linecap="butt"/>
<line x1="325.9" y1="929.8" x2="325.9" y2="937.7" stroke="#b0b0b0" stroke-width="1.3" stroke-linecap="butt"/>
<circle cx="325.9" cy="929.8" r="7.1" fill="url(#sg)"/>
<line x1="321.6" y1="927.7" x2="326.5" y2="927.7" stroke="#b0b0b0" stroke-width="1" stroke-linecap="butt"/>
<line x1="426.7" y1="873.2" x2="426.7" y2="881.1" stroke="#b0b0b0" stroke-width="1.3" stroke-linecap="butt"/>
<circle cx="426.7" cy="873.2" r="7.1" fill="url(#sg)"/>
<line x1="422.4" y1="871.1" x2="427.3" y2="871.1" stroke="#b0b0b0" stroke-width="1" stroke-linecap="butt"/>
<line x1="515" y1="818.2" x2="515" y2="826.1" stroke="#b0b0b0" stroke-width="1.3" stroke-linecap="butt"/>
<circle cx="515" cy="818.2" r="7.1" fill="url(#sg)"/>
<line x1="510.7" y1="816.1" x2="515.6" y2="816.1" stroke="#b0b0b0" stroke-width="1" stroke-linecap="butt"/>
<circle cx="565.1" cy="765.1" r="7.1" fill="url(#sg)"/>
<circle cx="590.7" cy="719.7" r="7.1" fill="url(#sg)"/>
<line x1="207.69" y1="980.2" x2="255.51" y2="932.3" stroke="#62ade1" stroke-width="2.6" stroke-linecap="round"/>
<line x1="266.78" y1="914.9" x2="284.32" y2="868.9" stroke="#62ade1" stroke-width="2.6" stroke-linecap="round"/>
<line x1="293.03" y1="849.62" x2="320.87" y2="796.68" stroke="#62ade1" stroke-width="2.6" stroke-linecap="round"/>
<line x1="329.86" y1="777.51" x2="347.04" y2="736.09" stroke="#62ade1" stroke-width="2.6" stroke-linecap="round"/>
<line x1="356.68" y1="717.29" x2="383.52" y2="673.91" stroke="#62ade1" stroke-width="2.6" stroke-linecap="round"/>
<line x1="351.1" y1="716.8" x2="351.1" y2="735.3" stroke="#62ade1" stroke-width="1.3" stroke-linecap="butt"/>
<line x1="346.8" y1="716.8" x2="355.4" y2="716.8" stroke="#62ade1" stroke-width="1.3" stroke-linecap="butt"/>
<line x1="346.8" y1="735.3" x2="355.4" y2="735.3" stroke="#62ade1" stroke-width="1.3" stroke-linecap="butt"/>
<line x1="389.1" y1="656.4" x2="389.1" y2="673.3" stroke="#62ade1" stroke-width="1.3" stroke-linecap="butt"/>
<line x1="384.8" y1="656.4" x2="393.4" y2="656.4" stroke="#62ade1" stroke-width="1.3" stroke-linecap="butt"/>
<line x1="384.8" y1="673.3" x2="393.4" y2="673.3" stroke="#62ade1" stroke-width="1.3" stroke-linecap="butt"/>
<line x1="200.2" y1="987.7" x2="200.2" y2="995.6" stroke="#62ade1" stroke-width="1.3" stroke-linecap="butt"/>
<circle cx="200.2" cy="987.7" r="7.1" fill="url(#sb)"/>
<line x1="195.9" y1="985.6" x2="200.8" y2="985.6" stroke="#62ade1" stroke-width="1" stroke-linecap="butt"/>
<line x1="263" y1="924.8" x2="263" y2="932.7" stroke="#62ade1" stroke-width="1.3" stroke-linecap="butt"/>
<circle cx="263" cy="924.8" r="7.1" fill="url(#sb)"/>
<line x1="258.7" y1="922.7" x2="263.6" y2="922.7" stroke="#62ade1" stroke-width="1" stroke-linecap="butt"/>
<line x1="288.1" y1="859" x2="288.1" y2="866.9" stroke="#62ade1" stroke-width="1.3" stroke-linecap="butt"/>
<circle cx="288.1" cy="859" r="7.1" fill="url(#sb)"/>
<line x1="283.8" y1="856.9" x2="288.7" y2="856.9" stroke="#62ade1" stroke-width="1" stroke-linecap="butt"/>
<line x1="325.8" y1="787.3" x2="325.8" y2="795.2" stroke="#62ade1" stroke-width="1.3" stroke-linecap="butt"/>
<circle cx="325.8" cy="787.3" r="7.1" fill="url(#sb)"/>
<line x1="321.5" y1="785.2" x2="326.4" y2="785.2" stroke="#62ade1" stroke-width="1" stroke-linecap="butt"/>
<circle cx="351.1" cy="726.3" r="7.1" fill="url(#sb)"/>
<circle cx="389.1" cy="664.9" r="7.1" fill="url(#sb)"/>
<line x1="123.8" y1="624.3" x2="140.5" y2="624.3" stroke="#62ade1" stroke-width="2.6" stroke-linecap="round"/>
<line x1="161.6" y1="624.3" x2="178.5" y2="624.3" stroke="#62ade1" stroke-width="2.6" stroke-linecap="round"/>
<circle cx="150.9" cy="624.3" r="7.1" fill="url(#sb)"/>
<text x="185.5" y="632.2" text-anchor="start" font-size="24.6">np-Pt</text>
<line x1="123.8" y1="654.5" x2="140.5" y2="654.5" stroke="#b0b0b0" stroke-width="2.6" stroke-linecap="round"/>
<line x1="161.6" y1="654.5" x2="178.5" y2="654.5" stroke="#b0b0b0" stroke-width="2.6" stroke-linecap="round"/>
<circle cx="150.9" cy="654.5" r="7.1" fill="url(#sg)"/>
<text x="184.9" y="662.4" text-anchor="start" font-size="24.6">Pt foil</text>
<rect x="805.4" y="599.1" width="503.6" height="412.6" fill="none" stroke="#000" stroke-width="1.7"/>
<line x1="797.95" y1="617.8" x2="805.4" y2="617.8" stroke="#000" stroke-width="1.7" stroke-linecap="butt"/>
<text x="793" y="625.5" text-anchor="end" font-size="24.2">600</text>
<line x1="797.95" y1="749.1" x2="805.4" y2="749.1" stroke="#000" stroke-width="1.7" stroke-linecap="butt"/>
<text x="793" y="755.9" text-anchor="end" font-size="24.2">400</text>
<line x1="797.95" y1="880.4" x2="805.4" y2="880.4" stroke="#000" stroke-width="1.7" stroke-linecap="butt"/>
<text x="793" y="888.9" text-anchor="end" font-size="24.2">200</text>
<line x1="797.95" y1="1011.7" x2="805.4" y2="1011.7" stroke="#000" stroke-width="1.7" stroke-linecap="butt"/>
<text x="793" y="1019.4" text-anchor="end" font-size="24.2">0</text>
<line x1="801.65" y1="683.45" x2="805.4" y2="683.45" stroke="#000" stroke-width="1.7" stroke-linecap="butt"/>
<line x1="801.65" y1="814.75" x2="805.4" y2="814.75" stroke="#000" stroke-width="1.7" stroke-linecap="butt"/>
<line x1="801.65" y1="946.05" x2="805.4" y2="946.05" stroke="#000" stroke-width="1.7" stroke-linecap="butt"/>
<line x1="805.4" y1="1011.7" x2="805.4" y2="1019.15" stroke="#000" stroke-width="1.7" stroke-linecap="butt"/>
<text x="805.4" y="1043" text-anchor="middle" font-size="24.2">2.6</text>
<line x1="965.2" y1="1011.7" x2="965.2" y2="1019.15" stroke="#000" stroke-width="1.7" stroke-linecap="butt"/>
<text x="965.2" y="1043" text-anchor="middle" font-size="24.2">3.0</text>
<line x1="1125" y1="1011.7" x2="1125" y2="1019.15" stroke="#000" stroke-width="1.7" stroke-linecap="butt"/>
<text x="1125" y="1043" text-anchor="middle" font-size="24.2">3.4</text>
<line x1="1284.8" y1="1011.7" x2="1284.8" y2="1019.15" stroke="#000" stroke-width="1.7" stroke-linecap="butt"/>
<text x="1284.8" y="1043" text-anchor="middle" font-size="24.2">3.8</text>
<line x1="885.3" y1="1011.7" x2="885.3" y2="1015.45" stroke="#000" stroke-width="1.7" stroke-linecap="butt"/>
<line x1="1045.1" y1="1011.7" x2="1045.1" y2="1015.45" stroke="#000" stroke-width="1.7" stroke-linecap="butt"/>
<line x1="1204.9" y1="1011.7" x2="1204.9" y2="1015.45" stroke="#000" stroke-width="1.7" stroke-linecap="butt"/>
<text transform="translate(734.9,817.9) rotate(-90)" text-anchor="middle" font-size="24.6">J<tspan font-size="16.3" dy="6.8">C2H4</tspan><tspan dy="-6.8"> (mA cm</tspan><tspan font-size="16.3" dy="-9.6" dx="0.8">-2</tspan><tspan dy="9.6" dx="1.2">)</tspan></text>
<text x="1057.5" y="1087" text-anchor="middle" font-size="24.6">E (V vs RHE)</text>
<line x1="862.97" y1="973.28" x2="927.33" y2="946.12" stroke="#62ade1" stroke-width="2.6" stroke-linecap="round"/>
<line x1="946.06" y1="936.34" x2="996.24" y2="904.66" stroke="#62ade1" stroke-width="2.6" stroke-linecap="round"/>
<line x1="1014.02" y1="893.12" x2="1059.78" y2="862.58" stroke="#62ade1" stroke-width="2.6" stroke-linecap="round"/>
<line x1="1077.43" y1="850.83" x2="1108.47" y2="830.17" stroke="#62ade1" stroke-width="2.6" stroke-linecap="round"/>
<line x1="1126.35" y1="818.77" x2="1168.15" y2="793.23" stroke="#62ade1" stroke-width="2.6" stroke-linecap="round"/>
<line x1="1185.78" y1="781.48" x2="1216.32" y2="759.32" stroke="#62ade1" stroke-width="2.6" stroke-linecap="round"/>
<line x1="1232.21" y1="745.42" x2="1245.59" y2="731.38" stroke="#62ade1" stroke-width="2.6" stroke-linecap="round"/>
<line x1="1257.39" y1="714.1" x2="1264.31" y2="699.3" stroke="#62ade1" stroke-width="2.6" stroke-linecap="round"/>
<line x1="1273.53" y1="680.21" x2="1276.37" y2="674.49" stroke="#62ade1" stroke-width="2.6" stroke-linecap="round"/>
<line x1="1177.2" y1="779.7" x2="1177.2" y2="795.8" stroke="#62ade1" stroke-width="1.3" stroke-linecap="butt"/>
<line x1="1172.9" y1="779.7" x2="1181.5" y2="779.7" stroke="#62ade1" stroke-width="1.3" stroke-linecap="butt"/>
<line x1="1172.9" y1="795.8" x2="1181.5" y2="795.8" stroke="#62ade1" stroke-width="1.3" stroke-linecap="butt"/>
<line x1="1224.9" y1="745.3" x2="1224.9" y2="761.4" stroke="#62ade1" stroke-width="1.3" stroke-linecap="butt"/>
<line x1="1220.6" y1="745.3" x2="1229.2" y2="745.3" stroke="#62ade1" stroke-width="1.3" stroke-linecap="butt"/>
<line x1="1220.6" y1="761.4" x2="1229.2" y2="761.4" stroke="#62ade1" stroke-width="1.3" stroke-linecap="butt"/>
<line x1="1252.9" y1="712.2" x2="1252.9" y2="735.2" stroke="#62ade1" stroke-width="1.3" stroke-linecap="butt"/>
<line x1="1248.6" y1="712.2" x2="1257.2" y2="712.2" stroke="#62ade1" stroke-width="1.3" stroke-linecap="butt"/>
<line x1="1248.6" y1="735.2" x2="1257.2" y2="735.2" stroke="#62ade1" stroke-width="1.3" stroke-linecap="butt"/>
<line x1="1268.8" y1="679.5" x2="1268.8" y2="700.2" stroke="#62ade1" stroke-width="1.3" stroke-linecap="butt"/>
<line x1="1264.5" y1="679.5" x2="1273.1" y2="679.5" stroke="#62ade1" stroke-width="1.3" stroke-linecap="butt"/>
<line x1="1264.5" y1="700.2" x2="1273.1" y2="700.2" stroke="#62ade1" stroke-width="1.3" stroke-linecap="butt"/>
<line x1="1281.1" y1="650.5" x2="1281.1" y2="680.1" stroke="#62ade1" stroke-width="1.3" stroke-linecap="butt"/>
<line x1="1276.8" y1="650.5" x2="1285.4" y2="650.5" stroke="#62ade1" stroke-width="1.3" stroke-linecap="butt"/>
<line x1="1276.8" y1="680.1" x2="1285.4" y2="680.1" stroke="#62ade1" stroke-width="1.3" stroke-linecap="butt"/>
<line x1="853.2" y1="977.4" x2="853.2" y2="985.3" stroke="#62ade1" stroke-width="1.3" stroke-linecap="butt"/>
<circle cx="853.2" cy="977.4" r="7.1" fill="url(#sb)"/>
<line x1="848.9" y1="975.3" x2="853.8" y2="975.3" stroke="#62ade1" stroke-width="1" stroke-linecap="butt"/>
<line x1="937.1" y1="942" x2="937.1" y2="949.9" stroke="#62ade1" stroke-width="1.3" stroke-linecap="butt"/>
<circle cx="937.1" cy="942" r="7.1" fill="url(#sb)"/>
<line x1="932.8" y1="939.9" x2="937.7" y2="939.9" stroke="#62ade1" stroke-width="1" stroke-linecap="butt"/>
<line x1="1005.2" y1="899" x2="1005.2" y2="906.9" stroke="#62ade1" stroke-width="1.3" stroke-linecap="butt"/>
<circle cx="1005.2" cy="899" r="7.1" fill="url(#sb)"/>
<line x1="1000.9" y1="896.9" x2="1005.8" y2="896.9" stroke="#62ade1" stroke-width="1" stroke-linecap="butt"/>
<line x1="1068.6" y1="856.7" x2="1068.6" y2="864.6" stroke="#62ade1" stroke-width="1.3" stroke-linecap="butt"/>
<circle cx="1068.6" cy="856.7" r="7.1" fill="url(#sb)"/>
<line x1="1064.3" y1="854.6" x2="1069.2" y2="854.6" stroke="#62ade1" stroke-width="1" stroke-linecap="butt"/>
<line x1="1117.3" y1="824.3" x2="1117.3" y2="832.2" stroke="#62ade1" stroke-width="1.3" stroke-linecap="butt"/>
<circle cx="1117.3" cy="824.3" r="7.1" fill="url(#sb)"/>
<line x1="1113" y1="822.2" x2="1117.9" y2="822.2" stroke="#62ade1" stroke-width="1" stroke-linecap="butt"/>
<circle cx="1177.2" cy="787.7" r="7.1" fill="url(#sb)"/>
<circle cx="1224.9" cy="753.1" r="7.1" fill="url(#sb)"/>
<circle cx="1252.9" cy="723.7" r="7.1" fill="url(#sb)"/>
<circle cx="1268.8" cy="689.7" r="7.1" fill="url(#sb)"/>
<circle cx="1281.1" cy="665" r="7.1" fill="url(#sb)"/>
<line x1="820.7" y1="624.3" x2="837.4" y2="624.3" stroke="#62ade1" stroke-width="2.6" stroke-linecap="round"/>
<line x1="858.5" y1="624.3" x2="875.4" y2="624.3" stroke="#62ade1" stroke-width="2.6" stroke-linecap="round"/>
<circle cx="847.8" cy="624.3" r="7.1" fill="url(#sb)"/>
<text x="882.4" y="632.2" text-anchor="start" font-size="24.6">np-Pt</text>
<rect x="1503.3" y="703.2" width="30.4" height="308.3" fill="url(#bar)"/>
<path d="M1503.8,1011.5 V703.7 H1533.2 V1011.5" fill="none" stroke="url(#bare)" stroke-width="1"/>
<rect x="1553.67" y="698.2" width="30.4" height="313.3" fill="url(#bar)"/>
<path d="M1554.17,1011.5 V698.7 H1583.57 V1011.5" fill="none" stroke="url(#bare)" stroke-width="1"/>
<rect x="1604.04" y="674.7" width="30.4" height="336.8" fill="url(#bar)"/>
<path d="M1604.54,1011.5 V675.2 H1633.94 V1011.5" fill="none" stroke="url(#bare)" stroke-width="1"/>
<rect x="1654.41" y="666" width="30.4" height="345.5" fill="url(#bar)"/>
<path d="M1654.91,1011.5 V666.5 H1684.31 V1011.5" fill="none" stroke="url(#bare)" stroke-width="1"/>
<rect x="1704.78" y="675.4" width="30.4" height="336.1" fill="url(#bar)"/>
<path d="M1705.28,1011.5 V675.9 H1734.68 V1011.5" fill="none" stroke="url(#bare)" stroke-width="1"/>
<rect x="1755.15" y="676.9" width="30.4" height="334.6" fill="url(#bar)"/>
<path d="M1755.65,1011.5 V677.4 H1785.05 V1011.5" fill="none" stroke="url(#bare)" stroke-width="1"/>
<rect x="1805.52" y="680.2" width="30.4" height="331.3" fill="url(#bar)"/>
<path d="M1806.02,1011.5 V680.7 H1835.42 V1011.5" fill="none" stroke="url(#bare)" stroke-width="1"/>
<rect x="1855.89" y="688.6" width="30.4" height="322.9" fill="url(#bar)"/>
<path d="M1856.39,1011.5 V689.1 H1885.79 V1011.5" fill="none" stroke="url(#bare)" stroke-width="1"/>
<rect x="1906.26" y="691" width="30.4" height="320.5" fill="url(#bar)"/>
<path d="M1906.76,1011.5 V691.5 H1936.16 V1011.5" fill="none" stroke="url(#bare)" stroke-width="1"/>
<rect x="1956.63" y="701.1" width="30.4" height="310.4" fill="url(#bar)"/>
<path d="M1957.13,1011.5 V701.6 H1986.53 V1011.5" fill="none" stroke="url(#bare)" stroke-width="1"/>
<line x1="1518.5" y1="688.6" x2="1518.5" y2="717.5" stroke="#c4c4c4" stroke-width="2" stroke-linecap="butt"/>
<line x1="1514.2" y1="688.6" x2="1522.8" y2="688.6" stroke="#c4c4c4" stroke-width="1.3" stroke-linecap="butt"/>
<line x1="1514.2" y1="717.5" x2="1522.8" y2="717.5" stroke="#c4c4c4" stroke-width="1.3" stroke-linecap="butt"/>
<line x1="1568.87" y1="684.2" x2="1568.87" y2="712.4" stroke="#c4c4c4" stroke-width="2" stroke-linecap="butt"/>
<line x1="1564.57" y1="684.2" x2="1573.17" y2="684.2" stroke="#c4c4c4" stroke-width="1.3" stroke-linecap="butt"/>
<line x1="1564.57" y1="712.4" x2="1573.17" y2="712.4" stroke="#c4c4c4" stroke-width="1.3" stroke-linecap="butt"/>
<line x1="1619.24" y1="661.9" x2="1619.24" y2="686.9" stroke="#c4c4c4" stroke-width="2" stroke-linecap="butt"/>
<line x1="1614.94" y1="661.9" x2="1623.54" y2="661.9" stroke="#c4c4c4" stroke-width="1.3" stroke-linecap="butt"/>
<line x1="1614.94" y1="686.9" x2="1623.54" y2="686.9" stroke="#c4c4c4" stroke-width="1.3" stroke-linecap="butt"/>
<line x1="1669.61" y1="654.3" x2="1669.61" y2="676.3" stroke="#c4c4c4" stroke-width="2" stroke-linecap="butt"/>
<line x1="1665.31" y1="654.3" x2="1673.91" y2="654.3" stroke="#c4c4c4" stroke-width="1.3" stroke-linecap="butt"/>
<line x1="1665.31" y1="676.3" x2="1673.91" y2="676.3" stroke="#c4c4c4" stroke-width="1.3" stroke-linecap="butt"/>
<line x1="1719.98" y1="665.9" x2="1719.98" y2="684.9" stroke="#c4c4c4" stroke-width="2" stroke-linecap="butt"/>
<line x1="1715.68" y1="665.9" x2="1724.28" y2="665.9" stroke="#c4c4c4" stroke-width="1.3" stroke-linecap="butt"/>
<line x1="1715.68" y1="684.9" x2="1724.28" y2="684.9" stroke="#c4c4c4" stroke-width="1.3" stroke-linecap="butt"/>
<line x1="1770.35" y1="664.4" x2="1770.35" y2="688.7" stroke="#c4c4c4" stroke-width="2" stroke-linecap="butt"/>
<line x1="1766.05" y1="664.4" x2="1774.65" y2="664.4" stroke="#c4c4c4" stroke-width="1.3" stroke-linecap="butt"/>
<line x1="1766.05" y1="688.7" x2="1774.65" y2="688.7" stroke="#c4c4c4" stroke-width="1.3" stroke-linecap="butt"/>
<line x1="1820.72" y1="670.3" x2="1820.72" y2="690.5" stroke="#c4c4c4" stroke-width="2" stroke-linecap="butt"/>
<line x1="1816.42" y1="670.3" x2="1825.02" y2="670.3" stroke="#c4c4c4" stroke-width="1.3" stroke-linecap="butt"/>
<line x1="1816.42" y1="690.5" x2="1825.02" y2="690.5" stroke="#c4c4c4" stroke-width="1.3" stroke-linecap="butt"/>
<line x1="1871.09" y1="675.8" x2="1871.09" y2="701.4" stroke="#c4c4c4" stroke-width="2" stroke-linecap="butt"/>
<line x1="1866.79" y1="675.8" x2="1875.39" y2="675.8" stroke="#c4c4c4" stroke-width="1.3" stroke-linecap="butt"/>
<line x1="1866.79" y1="701.4" x2="1875.39" y2="701.4" stroke="#c4c4c4" stroke-width="1.3" stroke-linecap="butt"/>
<line x1="1921.46" y1="680.2" x2="1921.46" y2="701.4" stroke="#c4c4c4" stroke-width="2" stroke-linecap="butt"/>
<line x1="1917.16" y1="680.2" x2="1925.76" y2="680.2" stroke="#c4c4c4" stroke-width="1.3" stroke-linecap="butt"/>
<line x1="1917.16" y1="701.4" x2="1925.76" y2="701.4" stroke="#c4c4c4" stroke-width="1.3" stroke-linecap="butt"/>
<line x1="1971.83" y1="687.7" x2="1971.83" y2="714.6" stroke="#c4c4c4" stroke-width="2" stroke-linecap="butt"/>
<line x1="1967.53" y1="687.7" x2="1976.13" y2="687.7" stroke="#c4c4c4" stroke-width="1.3" stroke-linecap="butt"/>
<line x1="1967.53" y1="714.6" x2="1976.13" y2="714.6" stroke="#c4c4c4" stroke-width="1.3" stroke-linecap="butt"/>
<rect x="1493.1" y="599.1" width="504.1" height="412.4" fill="none" stroke="#000" stroke-width="1.7"/>
<line x1="1485.65" y1="658.01" x2="1493.1" y2="658.01" stroke="#000" stroke-width="1.7" stroke-linecap="butt"/>
<text x="1481.1" y="665.11" text-anchor="end" font-size="24.2">60</text>
<line x1="1485.65" y1="775.84" x2="1493.1" y2="775.84" stroke="#000" stroke-width="1.7" stroke-linecap="butt"/>
<text x="1481.1" y="782.94" text-anchor="end" font-size="24.2">40</text>
<line x1="1485.65" y1="893.67" x2="1493.1" y2="893.67" stroke="#000" stroke-width="1.7" stroke-linecap="butt"/>
<text x="1481.1" y="900.77" text-anchor="end" font-size="24.2">20</text>
<line x1="1485.65" y1="1011.5" x2="1493.1" y2="1011.5" stroke="#000" stroke-width="1.7" stroke-linecap="butt"/>
<text x="1481.1" y="1018.6" text-anchor="end" font-size="24.2">0</text>
<line x1="1489.35" y1="599.1" x2="1493.1" y2="599.1" stroke="#000" stroke-width="1.7" stroke-linecap="butt"/>
<line x1="1489.35" y1="716.93" x2="1493.1" y2="716.93" stroke="#000" stroke-width="1.7" stroke-linecap="butt"/>
<line x1="1489.35" y1="834.76" x2="1493.1" y2="834.76" stroke="#000" stroke-width="1.7" stroke-linecap="butt"/>
<line x1="1489.35" y1="952.59" x2="1493.1" y2="952.59" stroke="#000" stroke-width="1.7" stroke-linecap="butt"/>
<line x1="1518.5" y1="1011.5" x2="1518.5" y2="1018.95" stroke="#000" stroke-width="1.7" stroke-linecap="butt"/>
<text x="1518.5" y="1043" text-anchor="middle" font-size="24.2">100</text>
<line x1="1619.24" y1="1011.5" x2="1619.24" y2="1018.95" stroke="#000" stroke-width="1.7" stroke-linecap="butt"/>
<text x="1619.24" y="1043" text-anchor="middle" font-size="24.2">300</text>
<line x1="1719.98" y1="1011.5" x2="1719.98" y2="1018.95" stroke="#000" stroke-width="1.7" stroke-linecap="butt"/>
<text x="1719.98" y="1043" text-anchor="middle" font-size="24.2">500</text>
<line x1="1820.72" y1="1011.5" x2="1820.72" y2="1018.95" stroke="#000" stroke-width="1.7" stroke-linecap="butt"/>
<text x="1820.72" y="1043" text-anchor="middle" font-size="24.2">700</text>
<line x1="1921.46" y1="1011.5" x2="1921.46" y2="1018.95" stroke="#000" stroke-width="1.7" stroke-linecap="butt"/>
<text x="1921.46" y="1043" text-anchor="middle" font-size="24.2">900</text>
<line x1="1568.87" y1="1011.5" x2="1568.87" y2="1015.25" stroke="#000" stroke-width="1.7" stroke-linecap="butt"/>
<line x1="1669.61" y1="1011.5" x2="1669.61" y2="1015.25" stroke="#000" stroke-width="1.7" stroke-linecap="butt"/>
<line x1="1770.35" y1="1011.5" x2="1770.35" y2="1015.25" stroke="#000" stroke-width="1.7" stroke-linecap="butt"/>
<line x1="1871.09" y1="1011.5" x2="1871.09" y2="1015.25" stroke="#000" stroke-width="1.7" stroke-linecap="butt"/>
<line x1="1971.83" y1="1011.5" x2="1971.83" y2="1015.25" stroke="#000" stroke-width="1.7" stroke-linecap="butt"/>
<text transform="translate(1434,802.8) rotate(-90)" text-anchor="middle" font-size="24.6">FE<tspan font-size="16.3" dy="6.2">C2H4</tspan><tspan dy="-6.2"> (%)</tspan></text>
<text x="1745.8" y="1084.3" text-anchor="middle" font-size="24.6">J (mA cm<tspan font-size="16.3" dy="-9.6" dx="0.8">-2</tspan><tspan dy="9.6" dx="1.2">)</tspan></text>
</svg></body></html>
